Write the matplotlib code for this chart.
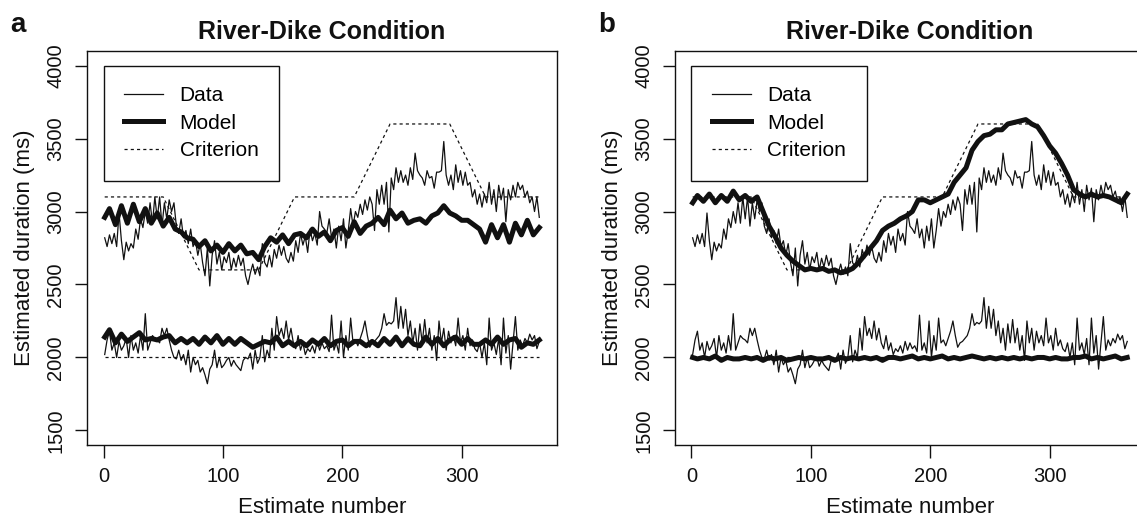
import matplotlib.pyplot as plt

plt.rcParams['font.family'] = ['Liberation Sans', 'DejaVu Sans']

# estimate numbers for the data (every second estimate) and the models (every fifth)
est_data = list(range(1, 366, 2))
est_model = [1] + list(range(5, 366, 5))

data_hi = [2820, 2760, 2840, 2780, 2850, 2760, 2990, 2800, 2670, 2790,
           2730, 2780, 2750, 2880, 2810, 2950, 2890, 3000, 2920, 3060,
           2920, 3100, 2950, 3100, 2900, 3060, 2950, 3080, 3000, 3060,
           2900, 2850, 2950, 2820, 2870, 2780, 2880, 2760, 2800, 2700,
           2780, 2650, 2560, 2750, 2490, 2700, 2800, 2640, 2720, 2600,
           2690, 2650, 2720, 2600, 2680, 2620, 2700, 2630, 2680, 2560,
           2500, 2580, 2640, 2570, 2620, 2560, 2780, 2650, 2620, 2700,
           2620, 2740, 2680, 2770, 2700, 2760, 2680, 2650, 2720, 2660,
           2800, 2720, 2850, 2770, 2830, 2720, 2880, 2800, 2850, 2770,
           3000, 2900, 2880, 2850, 2950, 2820, 2880, 2750, 2900, 2800,
           2950, 2750, 2870, 3020, 2900, 3000, 2960, 3050, 2980, 3080,
           3010, 3100, 3050, 2870, 3150, 3050, 3180, 3050, 3200, 2860,
           3230, 3150, 3300, 3200, 3280, 3200, 3250, 3180, 3300, 3220,
           3400, 3280, 3250, 3230, 3180, 3280, 3230, 3240, 3160, 3270,
           3270, 3280, 3480, 3250, 3180, 3250, 3150, 3320, 3200, 3280,
           3180, 3270, 3180, 3200, 3100, 3150, 3050, 3120, 3030, 3120,
           3060, 3200, 3050, 3150, 3000, 3180, 3080, 3160, 2930, 3150,
           3080, 3180, 3100, 3200, 3150, 3180, 3100, 3140, 3060, 3100,
           3000, 3100, 2960]

data_lo = [2020, 2120, 2180, 2050, 2100, 2000, 2110, 2050, 2080, 2130,
           2000, 2150, 2050, 2100, 2030, 2150, 2050, 2300, 2050, 2100,
           2150, 2130, 2120, 2100, 2200, 2150, 2200, 2120, 2050, 2000,
           1990, 2050, 1980, 2020, 1950, 2050, 1900, 2000, 1950, 1980,
           1900, 1930, 1880, 1820, 1920, 1950, 2050, 1930, 2000, 1930,
           1950, 1980, 2000, 1940, 1980, 1950, 1930, 1910, 1980, 2000,
           1990, 2030, 1920, 2050, 1960, 2000, 2150, 1970, 2050, 2000,
           2200, 2050, 2280, 2150, 2200, 2130, 2250, 2120, 2200, 2100,
           2060, 2150, 2050, 2100, 2020, 2060, 2040, 2080, 2030, 2110,
           2050, 2100, 2060, 2080, 2040, 2290, 2050, 2100, 2030, 2250,
           2000, 2150, 2050, 2270, 2100, 2120, 2080, 2130, 2180, 2250,
           2150, 2070, 2100, 2110, 2130, 2150, 2200, 2300, 2220, 2240,
           2230, 2250, 2410, 2200, 2350, 2200, 2330, 2150, 2250, 2100,
           2200, 2050, 2230, 2100, 2260, 2100, 2200, 2050, 2150, 1980,
           2250, 2100, 2200, 2050, 2180, 2100, 2150, 2080, 2270, 2100,
           2150, 2050, 2200, 2080, 2120, 2060, 2040, 2100, 2000, 2100,
           1950, 2270, 2050, 2100, 2020, 2130, 1950, 2270, 2030, 2150,
           1920, 2100, 2280, 2050, 2120, 2080, 2130, 2100, 2160, 2120,
           2150, 2060, 2110]

model_a_hi = [2960, 3020, 2910, 3040, 2920, 3050, 2930, 3020, 2920, 2990,
              2900, 2960, 2880, 2860, 2820, 2810, 2760, 2800, 2730, 2770,
              2720, 2780, 2730, 2770, 2710, 2720, 2670, 2760, 2820, 2790,
              2840, 2780, 2840, 2850, 2820, 2880, 2830, 2860, 2800, 2870,
              2890, 2830, 2930, 2850, 2900, 2920, 2960, 2910, 3010, 2950,
              2990, 2920, 2940, 2950, 2920, 2970, 2990, 3040, 2990, 2970,
              2940, 2940, 2910, 2880, 2790, 2910, 2820, 2910, 2790, 2920,
              2840, 2940, 2840, 2890]

model_a_lo = [2140, 2190, 2100, 2160, 2110, 2140, 2170, 2120, 2130, 2120,
              2140, 2150, 2100, 2130, 2100, 2130, 2090, 2140, 2100, 2150,
              2090, 2130, 2090, 2130, 2100, 2070, 2090, 2110, 2100, 2140,
              2080, 2110, 2080, 2110, 2080, 2120, 2090, 2130, 2080, 2110,
              2120, 2080, 2110, 2110, 2080, 2110, 2080, 2130, 2090, 2140,
              2080, 2130, 2090, 2080, 2140, 2090, 2130, 2080, 2120, 2140,
              2090, 2130, 2090, 2090, 2120, 2090, 2140, 2090, 2120, 2130,
              2070, 2100, 2090, 2120]

model_b_hi = [3060, 3110, 3070, 3120, 3060, 3110, 3070, 3140, 3080, 3110,
              3070, 3100, 3000, 2900, 2830, 2750, 2700, 2660, 2630, 2600,
              2610, 2600, 2610, 2590, 2600, 2580, 2590, 2610, 2650, 2700,
              2750, 2800, 2870, 2900, 2920, 2950, 2970, 3000, 3080, 3080,
              3060, 3080, 3100, 3120, 3200, 3250, 3300, 3420, 3480, 3520,
              3530, 3560, 3560, 3600, 3610, 3620, 3630, 3600, 3580, 3520,
              3450, 3400, 3330, 3250, 3150, 3120, 3100, 3120, 3100, 3110,
              3100, 3080, 3060, 3120]

model_b_lo = [2000, 1990, 2000, 1990, 2010, 1980, 2000, 1990, 1990, 2000,
              1990, 2000, 1980, 2000, 1990, 2000, 1980, 1990, 2000, 1990,
              2000, 1990, 1990, 2000, 1980, 2000, 1990, 2000, 1990, 2000,
              1990, 2000, 1980, 2000, 2000, 1990, 2000, 2010, 1990, 2000,
              1990, 2000, 2010, 1990, 2000, 1990, 2000, 2010, 2000, 1990,
              2000, 1990, 2000, 1990, 2000, 1990, 2000, 1990, 2000, 2000,
              1990, 2000, 1990, 1990, 2000, 2000, 2010, 1990, 2000, 1990,
              2000, 2010, 1990, 2000]

est_crit = [1, 50, 80, 130, 160, 210, 240, 290, 320, 365]
crit_hi = [3100, 3100, 2600, 2600, 3100, 3100, 3600, 3600, 3100, 3100]
crit_lo = [2000, 2000, 2000, 2000, 2000, 2000, 2000, 2000, 2000, 2000]

panels = [("a", model_a_hi, model_a_lo, 0.0768),
          ("b", model_b_hi, model_b_lo, 0.5939)]

fig = plt.figure(figsize=(11.37, 5.2), dpi=100)
ink = "#111111"

for letter, m_hi, m_lo, left in panels:
    ax = fig.add_axes([left, 0.1442, 0.4128, 0.7577])
    ax.plot(est_data, data_hi, color=ink, lw=0.9, label="Data")
    ax.plot(est_data, data_lo, color=ink, lw=0.9)
    ax.plot(est_model, m_hi, color=ink, lw=3.6, label="Model")
    ax.plot(est_model, m_lo, color=ink, lw=3.6)
    ax.plot(est_crit, crit_hi, color=ink, lw=0.9, ls=(0, (2.5, 2.5)), label="Criterion")
    ax.plot(est_crit, crit_lo, color=ink, lw=0.9, ls=(0, (2.5, 2.5)))

    ax.set_xlim(-13.56, 379.56)
    ax.set_ylim(1400, 4100)
    ax.set_xticks([0, 100, 200, 300])
    ax.set_yticks([1500, 2000, 2500, 3000, 3500, 4000])
    ax.set_yticklabels(["1500", "2000", "2500", "3000", "3500", "4000"],
                       rotation=90, va="center")
    ax.tick_params(direction="out", length=9, width=1, labelsize=14.5, pad=7,
                   colors=ink)
    for s in ax.spines.values():
        s.set_linewidth(1)
        s.set_color(ink)

    ax.set_xlabel("Estimate number", fontsize=16, labelpad=8, color=ink)
    ax.set_ylabel("Estimated duration (ms)", fontsize=16, labelpad=8, color=ink)
    ax.set_title("River-Dike Condition", fontsize=18, fontweight="bold",
                 pad=9, color=ink)

    leg = ax.legend(loc="upper left", bbox_to_anchor=(0, 4000),
                    bbox_transform=ax.transData, borderaxespad=0,
                    fontsize=15, handlelength=1.85, handletextpad=0.8,
                    borderpad=1.0, labelspacing=0.4, fancybox=False,
                    framealpha=1, edgecolor=ink)
    leg.get_frame().set_linewidth(1)

    fig.text(left - 0.068, 0.938, letter, fontsize=20, fontweight="bold",
             va="baseline", color=ink)

plt.savefig("out.png", dpi=100)
